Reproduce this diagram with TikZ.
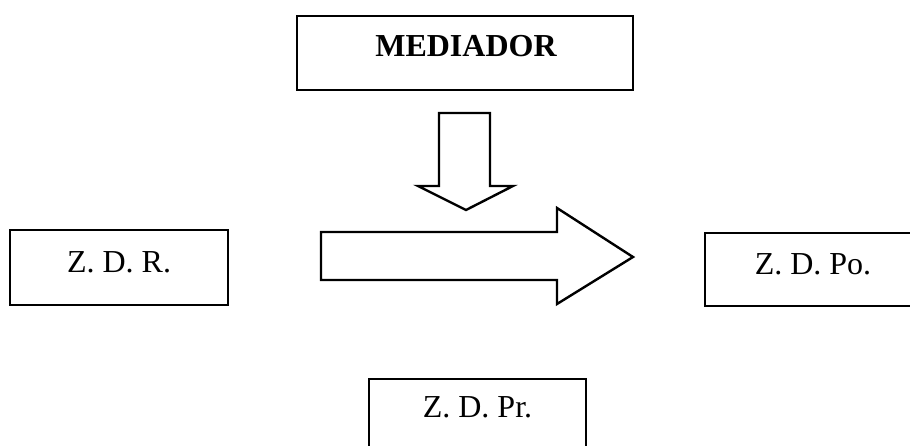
\documentclass[tikz,border=0pt]{standalone}
\usepackage{fontspec}
\setmainfont{Liberation Serif}
\begin{document}
\begin{tikzpicture}[x=1pt,y=-1pt,
  box/.style={draw,line width=2.4pt,rectangle,inner sep=0pt},
  lbl/.style={font=\fontsize{32}{36}\selectfont,inner sep=0pt},
  fatarrow/.style={draw,line width=2.4pt,line join=miter,fill=white}]
\useasboundingbox (0,0) rectangle (910,446);
% boxes
\node[box,minimum width=336pt,minimum height=74pt] (med) at (465,53) {};
\node[lbl,font=\fontsize{32}{36}\selectfont\bfseries] (medt) at (466,46.5) {MEDIADOR};
\node[box,minimum width=218pt,minimum height=75pt] (zdr) at (119,267.5) {};
\node[lbl] (zdrt) at (119,262) {Z. D. R.};
\node[box,minimum width=215pt,minimum height=73pt] (zdpo) at (812.5,269.5) {};
\node[lbl] (zdpot) at (813,264) {Z. D. Po.};
\node[box,minimum width=217pt,minimum height=76pt] (zdpr) at (477.5,417) {};
\node[lbl] (zdprt) at (477.5,407) {Z. D. Pr.};
% block arrows
\draw[fatarrow] (439,113) -- (490,113) -- (490,186) -- (513,186) -- (466,210)
  -- (418,186) -- (439,186) -- cycle;
\draw[fatarrow] (321,232) -- (557,232) -- (557,208) -- (633,257) -- (557,304)
  -- (557,280) -- (321,280) -- cycle;
\end{tikzpicture}
\end{document}
